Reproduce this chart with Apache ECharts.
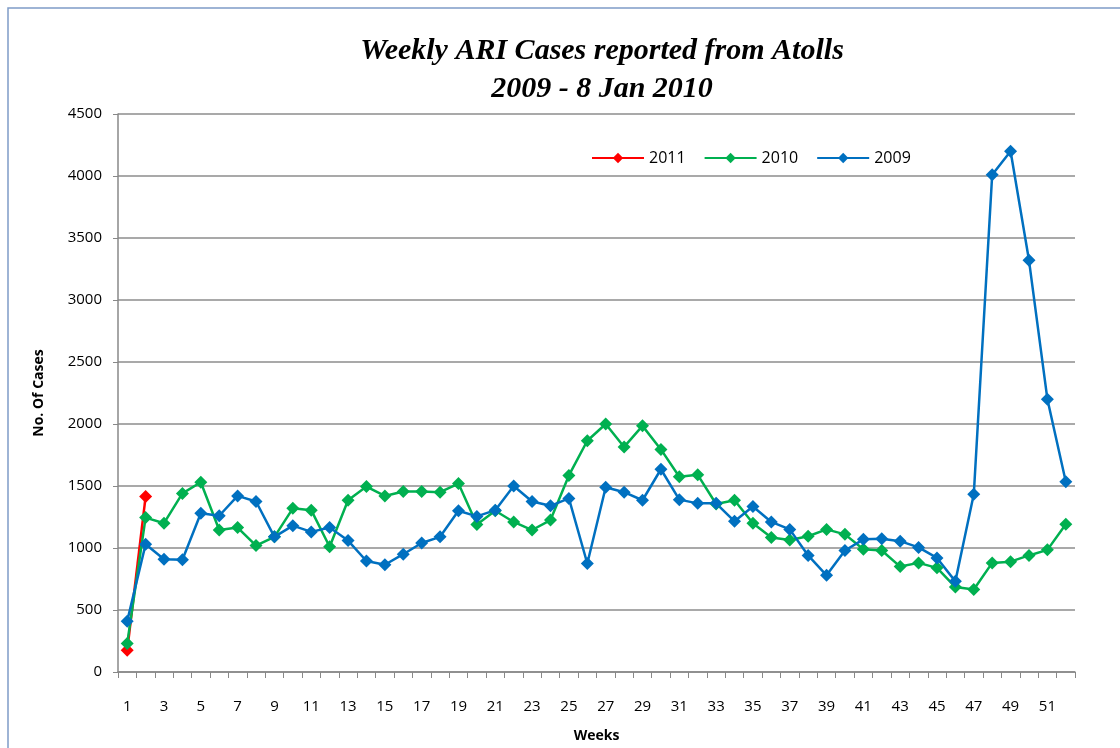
<!DOCTYPE html>
<html>
<head>
<meta charset="utf-8">
<script src="https://cdn.jsdelivr.net/npm/echarts@6/dist/echarts.min.js"></script>
<style>
  html, body { margin: 0; padding: 0; background: #fff; }
  #chart { width: 1120px; height: 748px; }
</style>
</head>
<body>
<div id="chart"></div>
<script>
// weeks 1..52
var weeks = [];
for (var w = 1; w <= 52; w++) weeks.push(String(w));

var cases2011 = [175, 1415];

var cases2010 = [230, 1245, 1200, 1440, 1530, 1145, 1165, 1020, 1090, 1320,
  1305, 1010, 1385, 1495, 1420, 1455, 1455, 1450, 1520, 1190,
  1300, 1210, 1145, 1225, 1585, 1865, 2000, 1815, 1985, 1795,
  1575, 1590, 1355, 1385, 1200, 1085, 1065, 1095, 1150, 1110,
  990, 980, 850, 880, 840, 685, 665, 880, 890, 940,
  985, 1192];

var cases2009 = [410, 1030, 910, 905, 1280, 1260, 1420, 1375, 1090, 1180,
  1130, 1165, 1060, 895, 865, 950, 1040, 1090, 1300, 1255,
  1305, 1500, 1375, 1340, 1400, 875, 1490, 1450, 1385, 1635,
  1390, 1360, 1360, 1215, 1335, 1210, 1150, 940, 780, 980,
  1070, 1075, 1055, 1005, 920, 731, 1433, 4010, 4200, 3320,
  2200, 1535];

var chart = echarts.init(document.getElementById('chart'));

function lineSeries(name, data, color) {
  return {
    name: name,
    type: 'line',
    data: data,
    symbol: 'diamond',
    symbolSize: 13,
    showAllSymbol: true,
    color: color,
    lineStyle: { width: 2.5, color: color },
    itemStyle: { color: color },
    animation: false
  };
}

var option = {
  backgroundColor: '#fff',
  title: {
    text: 'Weekly ARI Cases reported from Atolls\n2009 - 8 Jan 2010',
    left: 597,
    top: 27,
    textAlign: 'center',
    textStyle: {
      fontFamily: 'Liberation Serif',
      fontStyle: 'italic',
      fontWeight: 'bold',
      fontSize: 30,
      lineHeight: 38,
      color: '#000'
    }
  },
  legend: {
    left: 586,
    top: 145,
    itemWidth: 52,
    itemHeight: 13,
    itemGap: 18,
    textStyle: { fontFamily: 'Open Sans', fontSize: 16, color: '#000' },
    data: ['2011', '2010', '2009']
  },
  grid: { left: 118, right: 45, top: 114, bottom: 74 },
  xAxis: {
    type: 'category',
    data: weeks,
    boundaryGap: true,
    name: 'Weeks',
    nameLocation: 'middle',
    nameGap: 57,
    nameTextStyle: { fontFamily: 'Open Sans', fontWeight: 'bold', fontSize: 14, color: '#000' },
    axisLine: { lineStyle: { color: '#888', width: 1.5 } },
    axisTick: { show: true, interval: 0, length: 6, lineStyle: { color: '#888' } },
    axisLabel: { interval: 1, margin: 27, fontFamily: 'Open Sans', fontSize: 15, color: '#000' },
    splitLine: { show: false }
  },
  yAxis: {
    type: 'value',
    min: 0,
    max: 4500,
    interval: 500,
    name: 'No. Of Cases',
    nameLocation: 'middle',
    nameGap: 72,
    nameTextStyle: { fontFamily: 'Open Sans', fontWeight: 'bold', fontSize: 14, color: '#000' },
    axisLine: { show: true, lineStyle: { color: '#888', width: 1.5 } },
    axisTick: { show: true, length: 5, lineStyle: { color: '#888' } },
    axisLabel: {
      margin: 16, fontFamily: 'Open Sans', fontSize: 15, color: '#000',
      formatter: function (v) { return String(v); }
    },
    splitLine: { lineStyle: { color: '#8c8c8c', width: 1.5 } }
  },
  graphic: [{
    type: 'polyline',
    shape: { points: [[8, 748], [8, 8], [1120, 8]] },
    style: { stroke: '#7f9cc8', lineWidth: 1.5, fill: null },
    silent: true
  }],
  series: [
    lineSeries('2011', cases2011, '#ff0000'),
    lineSeries('2010', cases2010, '#00b050'),
    lineSeries('2009', cases2009, '#0070c0')
  ]
};

chart.setOption(option);
</script>
</body>
</html>
